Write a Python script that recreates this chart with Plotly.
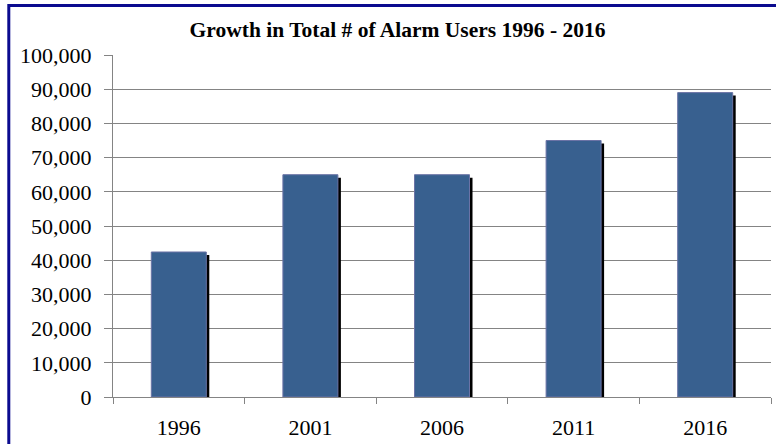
import plotly.graph_objects as go

years = ["1996", "2001", "2006", "2011", "2016"]
users = [42400, 65000, 65000, 75000, 89000]
y_ticks = [0, 10000, 20000, 30000, 40000, 50000, 60000, 70000, 80000, 90000, 100000]
y_labels = ["0", "10,000", "20,000", "30,000", "40,000", "50,000", "60,000",
            "70,000", "80,000", "90,000", "100,000"]

W, H = 776, 444
ML, MR, MT, MB = 113, 5, 55, 46.5
pw = W - ML - MR
ph = H - MT - MB
cat_px = pw / len(years)
bar_w = 0.418
dx = 3 / cat_px                      # shadow shift in category units
dy = 3 * 100000 / ph                 # shadow drop in data units

font = "Liberation Serif, Times New Roman, serif"
axis_grey = "#848484"

fig = go.Figure()
fig.add_trace(go.Bar(
    x=years, y=[v - dy for v in users], width=bar_w, offset=-bar_w / 2 + dx,
    marker=dict(color="#000000", line=dict(width=0)), hoverinfo="skip",
    showlegend=False))
fig.add_trace(go.Bar(
    x=years, y=users, width=bar_w, offset=-bar_w / 2,
    marker=dict(color="#38608f", line=dict(color="#6b73a6", width=1)),
    showlegend=False))

fig.update_layout(
    width=W, height=H, barmode="overlay",
    margin=dict(l=ML, r=MR, t=MT, b=MB, pad=0),
    paper_bgcolor="white", plot_bgcolor="white",
    font=dict(family=font, color="#000000", size=22),
    title=dict(text="<b>Growth in Total # of Alarm Users 1996 - 2016</b>",
               x=397.5 / W, xanchor="center", xref="container",
               y=1 - 29 / H, yanchor="middle", yref="container",
               font=dict(family=font, size=21.5, color="#000000")),
    xaxis=dict(type="category", showgrid=False, showline=True,
               linecolor=axis_grey, linewidth=1.3,
               ticks="outside", ticklen=6, tickcolor=axis_grey, tickwidth=1.3,
               tickson="boundaries", ticklabelstandoff=10,
               tickfont=dict(size=22), range=[-0.5, 4.5]),
    yaxis=dict(range=[0, 100000], tickvals=y_ticks, ticktext=y_labels,
               showgrid=True, gridcolor=axis_grey, gridwidth=1.3,
               showline=True, linecolor=axis_grey, linewidth=1.3,
               ticks="outside", ticklen=8, tickcolor=axis_grey, tickwidth=1.3,
               ticklabelstandoff=8, zeroline=False,
               tickfont=dict(size=22)),
    shapes=[dict(type="rect", xref="paper", yref="paper",
                 x0=(8.8 - ML) / pw, x1=2.0,
                 y0=-1.0, y1=1 + (MT - 5.5) / ph,
                 line=dict(color="#0b0b8f", width=3), layer="above")],
)

fig.write_html("out.html")
